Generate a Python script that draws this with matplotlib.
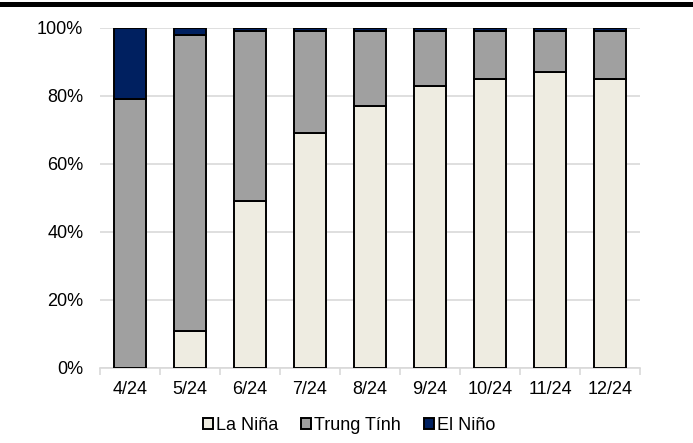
import matplotlib
matplotlib.use("Agg")
import matplotlib.pyplot as plt
from matplotlib.patches import Rectangle
from matplotlib.ticker import FixedLocator, NullFormatter
import numpy as np

plt.rcParams['font.family'] = ['Liberation Sans', 'DejaVu Sans']

months = ["4/24", "5/24", "6/24", "7/24", "8/24", "9/24", "10/24", "11/24", "12/24"]
la_nina = [0, 11, 49, 69, 77, 83, 85, 87, 85]
trung_tinh = [79, 87, 50, 30, 22, 16, 14, 12, 14]
el_nino = [21, 2, 1, 1, 1, 1, 1, 1, 1]

series = [("La Niña", la_nina, "#eeece1"),
          ("Trung Tính", trung_tinh, "#a0a0a0"),
          ("El Niño", el_nino, "#002060")]

fig = plt.figure(figsize=(6.93, 4.43), dpi=100)
ax = fig.add_axes([100 / 693, 1 - 368 / 443, 540 / 693, 340 / 443])

x = np.arange(len(months))
bottom = np.zeros(len(months))
handles = []
for name, vals, color in series:
    vals = np.array(vals, dtype=float)
    b = ax.bar(x, vals, width=0.52, bottom=bottom, color=color,
               edgecolor="black", linewidth=1.4, label=name, zorder=3)
    handles.append(b)
    bottom += vals

ax.set_xlim(-0.5, len(months) - 0.5)
ax.set_ylim(0, 100)
ax.set_yticks(range(0, 101, 20))
ax.set_yticklabels([f"{v}%" for v in range(0, 101, 20)], fontsize=13)
ax.yaxis.grid(True, color="#d9d9d9", linewidth=1.2, zorder=0)
ax.tick_params(axis="y", length=0, pad=12)

ax.set_xticks(x)
ax.set_xticklabels(months, fontsize=13)
ax.xaxis.set_minor_locator(FixedLocator(np.arange(-0.5, len(months), 1.0)))
ax.xaxis.set_minor_formatter(NullFormatter())
ax.tick_params(axis="x", which="major", length=0, pad=9)
ax.tick_params(axis="x", which="minor", length=5, color="#d9d9d9", width=1.2)

for side in ("top", "right", "left"):
    ax.spines[side].set_visible(False)
ax.spines["bottom"].set_color("#d9d9d9")
ax.spines["bottom"].set_linewidth(1.2)

fig.legend(handles=handles, loc="center", bbox_to_anchor=(349 / 693, 1 - 425 / 443),
           ncol=3, frameon=False, fontsize=13, handlelength=0.55, handleheight=0.55,
           handletextpad=0.15, columnspacing=1.3)

# thick rule across the top of the figure
fig.add_artist(Rectangle((0, 1 - 6.5 / 443), 1, 4.5 / 443, transform=fig.transFigure,
                         facecolor="black", edgecolor="none"))

fig.savefig("out.png", dpi=100)
